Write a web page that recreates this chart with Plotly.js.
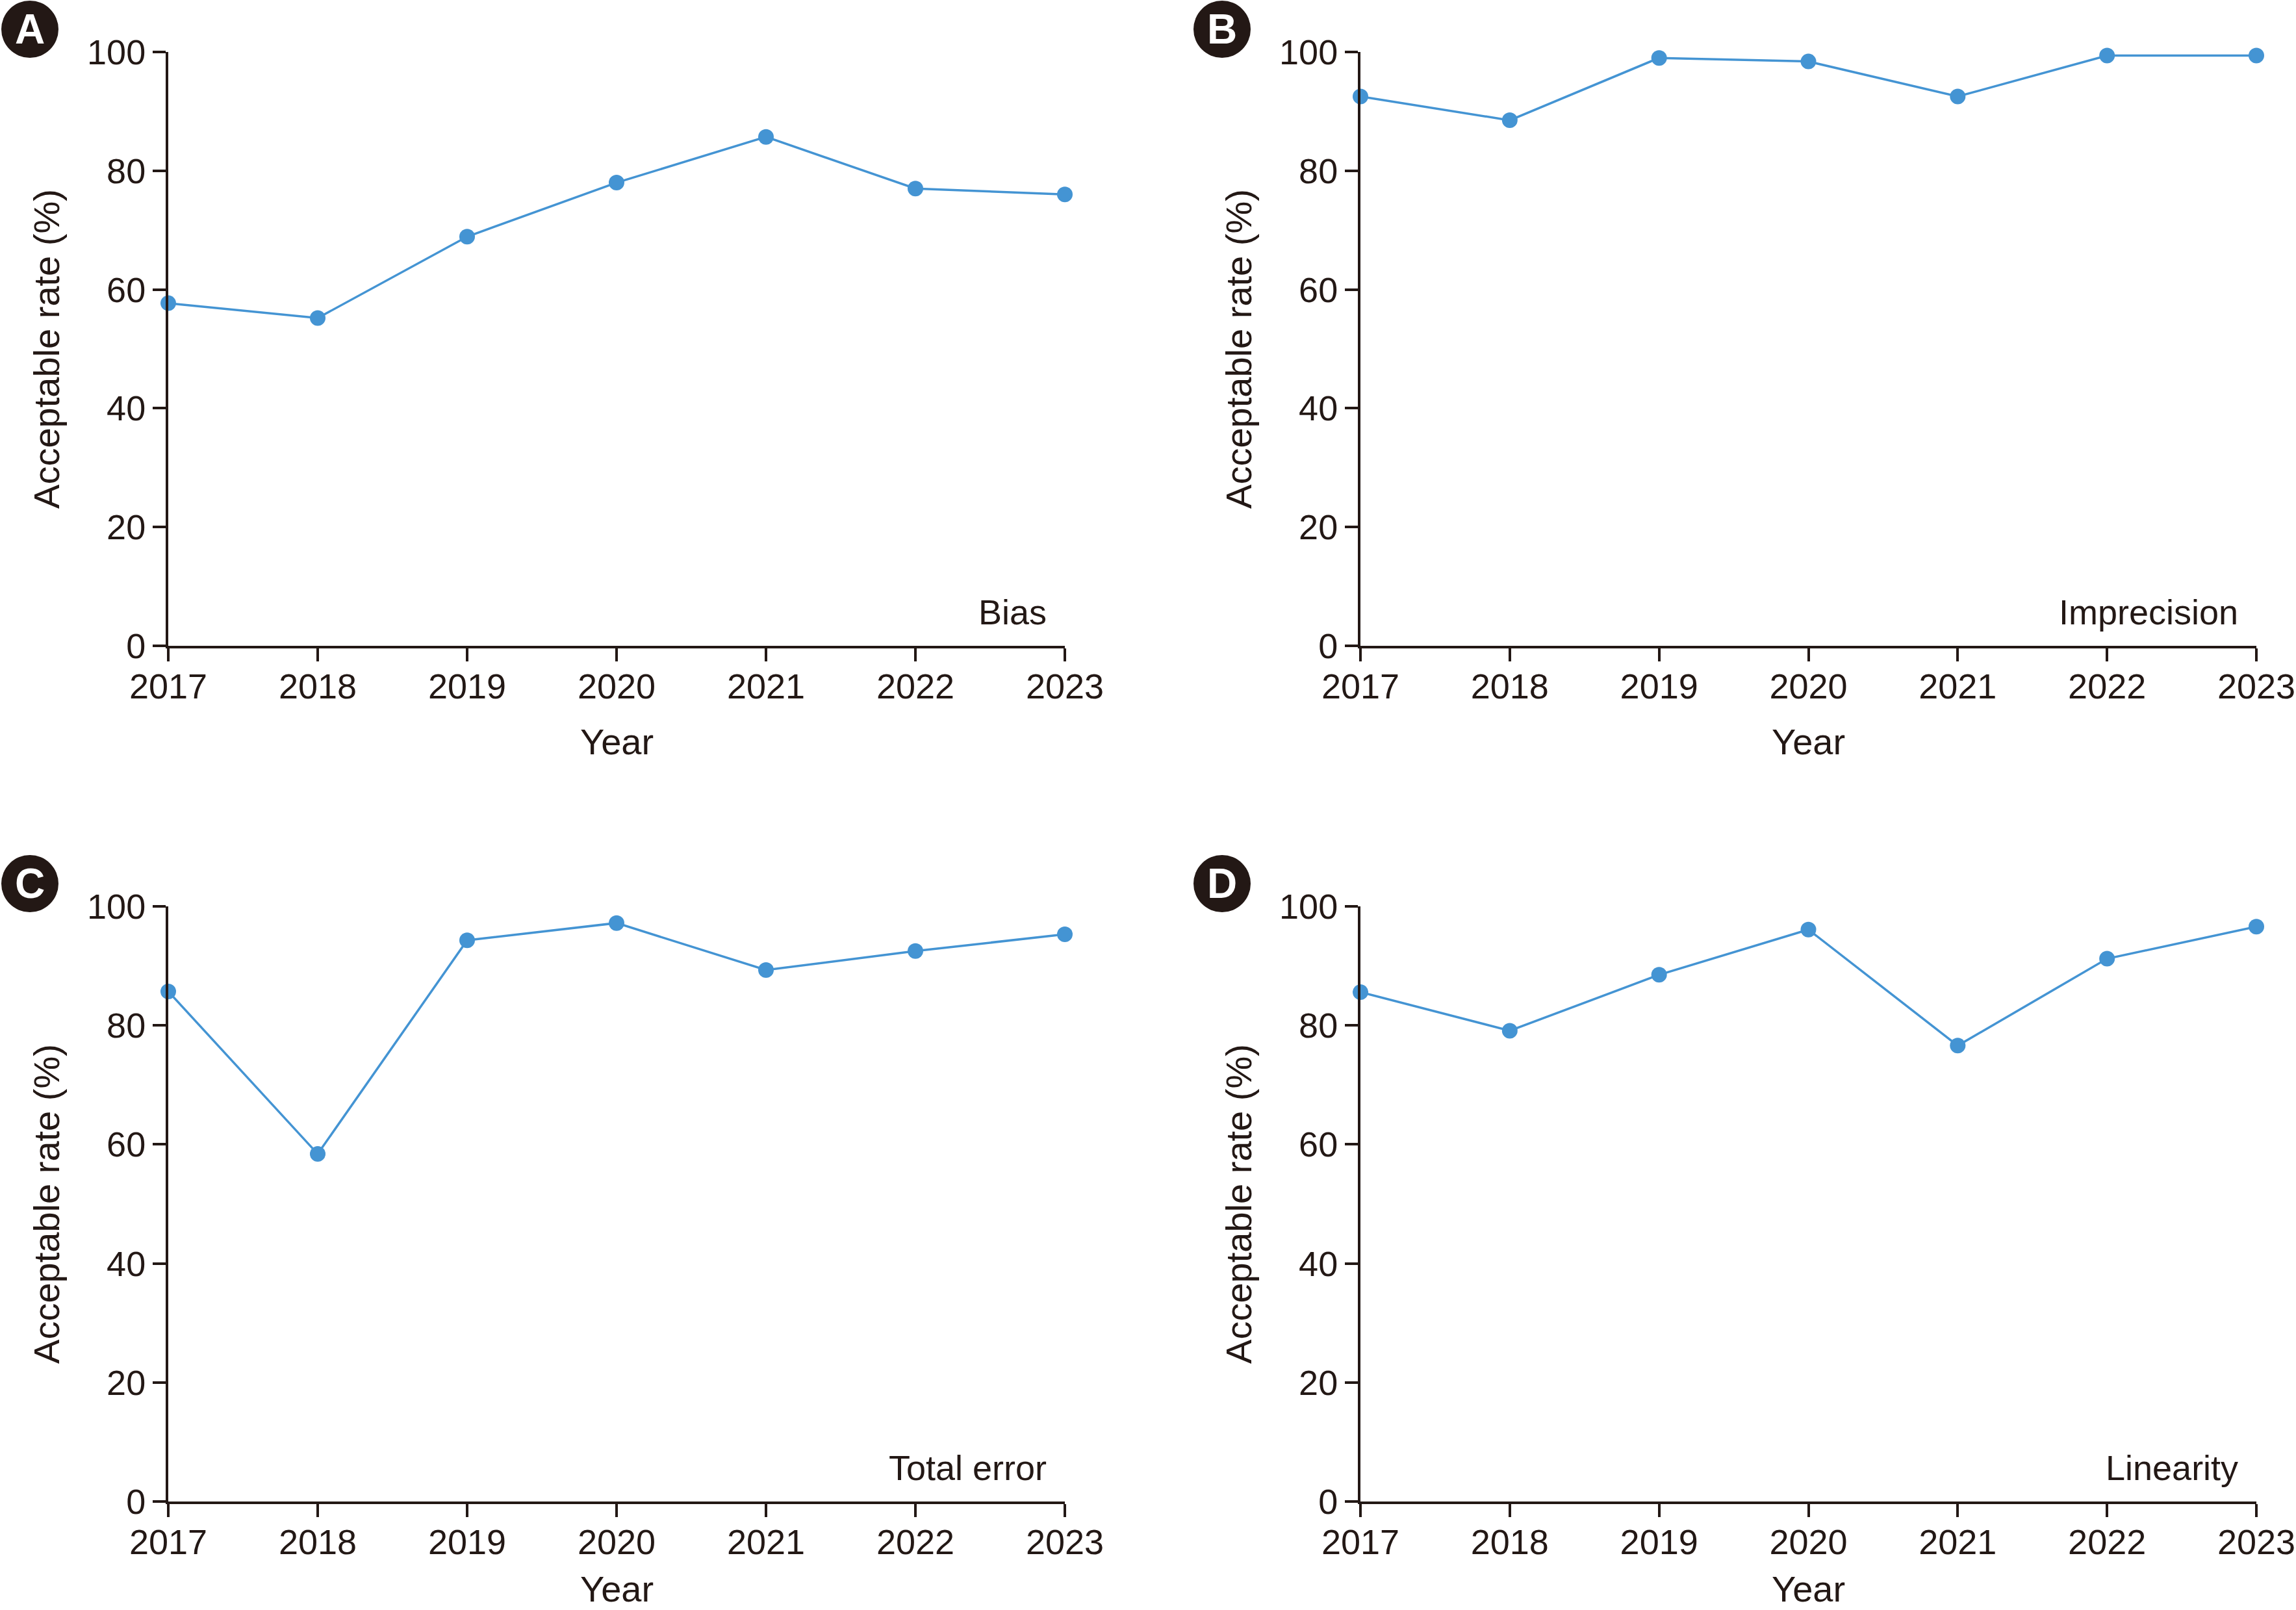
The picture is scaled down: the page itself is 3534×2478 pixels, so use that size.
<!DOCTYPE html>
<html>
<head>
<meta charset="utf-8">
<script src="https://cdn.plot.ly/plotly-3.0.1.min.js"></script>
<style>html,body{margin:0;padding:0;background:#fff;}#chart{width:3534px;height:2478px;}</style>
</head>
<body>
<div id="chart"></div>
<script>
const years = [2017, 2018, 2019, 2020, 2021, 2022, 2023];
const yearLabels = ['2017', '2018', '2019', '2020', '2021', '2022', '2023'];
const yTicks = [0, 20, 40, 60, 80, 100];
const bias = [57.7, 55.2, 68.9, 78.0, 85.7, 77.0, 76.0];
const imprecision = [92.5, 88.5, 99.0, 98.4, 92.5, 99.4, 99.4];
const totalError = [85.7, 58.4, 94.3, 97.2, 89.3, 92.5, 95.3];
const linearity = [85.6, 79.1, 88.5, 96.1, 76.6, 91.2, 96.6];
const panelLetters = ['A', 'B', 'C', 'D'];
const panelNames = ['Bias', 'Imprecision', 'Total error', 'Linearity'];
const xTitle = 'Year';
const yTitle = 'Acceptable rate (%)';
const series = [bias, imprecision, totalError, linearity];

const W = 3534, H = 2478;
const ink = '#231815';
const blue = '#4494d3';
const xDomains = [[259 / W, 1639 / W], [2094 / W, 3473 / W]];
const yDomains = [[1 - 994 / H, 1 - 80 / H], [1 - 2311 / H, 1 - 1395 / H]];
const badgeX = [46, 1881];
const badgeY = [45, 1360];

const traces = [];
const layout = {
  width: W, height: H,
  margin: {l: 0, r: 0, t: 0, b: 0},
  paper_bgcolor: '#ffffff', plot_bgcolor: '#ffffff',
  showlegend: false,
  font: {family: 'Liberation Sans, Arial, sans-serif', color: ink, size: 54},
  shapes: [], annotations: []
};

for (let i = 0; i < 4; i++) {
  const col = i % 2, row = Math.floor(i / 2);
  const n = i + 1;
  const xa = n === 1 ? 'x' : 'x' + n;
  const ya = n === 1 ? 'y' : 'y' + n;
  traces.push({
    x: years, y: series[i], xaxis: xa, yaxis: ya,
    type: 'scatter', mode: 'lines+markers', cliponaxis: false,
    line: {color: blue, width: 3.5},
    marker: {color: blue, size: 24},
    hoverinfo: 'skip'
  });
  layout['xaxis' + (n === 1 ? '' : n)] = {
    domain: xDomains[col], anchor: ya,
    range: [2017, 2023], tickvals: years, ticktext: yearLabels,
    showline: true, linecolor: ink, linewidth: 4,
    ticks: 'outside', ticklen: 20, tickwidth: 4, tickcolor: ink,
    ticklabelstandoff: -8,
    showgrid: false, zeroline: false, automargin: false,
    tickfont: {size: 54, color: ink}
  };
  layout['yaxis' + (n === 1 ? '' : n)] = {
    domain: yDomains[row], anchor: xa,
    range: [0, 100], tickvals: yTicks,
    showline: true, linecolor: ink, linewidth: 4,
    ticks: 'outside', ticklen: 20, tickwidth: 4, tickcolor: ink,
    showgrid: false, zeroline: false, automargin: false,
    tickfont: {size: 54, color: ink},
    title: {text: yTitle, font: {size: 56, color: ink}, standoff: 25}
  };
  layout.annotations.push(row === 0 ? {
    xref: xa + ' domain', yref: 'paper', x: 0.5, y: 1 - 1142 / H,
    xanchor: 'center', yanchor: 'middle', showarrow: false,
    text: xTitle, font: {size: 56, color: ink}
  } : {
    xref: xa + ' domain', yref: 'paper', x: 0.5, y: 0,
    xanchor: 'center', yanchor: 'bottom', showarrow: false, borderpad: 0,
    text: xTitle, font: {size: 56, color: ink}
  });
  layout.annotations.push({
    xref: xa + ' domain', yref: ya + ' domain', x: 0.981, y: 0.057,
    xanchor: 'right', yanchor: 'middle', showarrow: false,
    text: panelNames[i], font: {size: 54, color: ink}
  });
  layout.shapes.push({
    type: 'circle', xref: 'paper', yref: 'paper',
    xsizemode: 'pixel', ysizemode: 'pixel',
    xanchor: badgeX[col] / W, yanchor: 1 - badgeY[row] / H,
    x0: -44, x1: 44, y0: -44, y1: 44,
    fillcolor: ink, line: {width: 0}
  });
  layout.annotations.push({
    xref: 'paper', yref: 'paper', x: badgeX[col] / W, y: 1 - badgeY[row] / H,
    xanchor: 'center', yanchor: 'middle', showarrow: false,
    text: '<b>' + panelLetters[i] + '</b>', font: {size: 64, color: '#ffffff'}
  });
}

Plotly.newPlot('chart', traces, layout, {staticPlot: true, displayModeBar: false});
</script>
</body>
</html>
